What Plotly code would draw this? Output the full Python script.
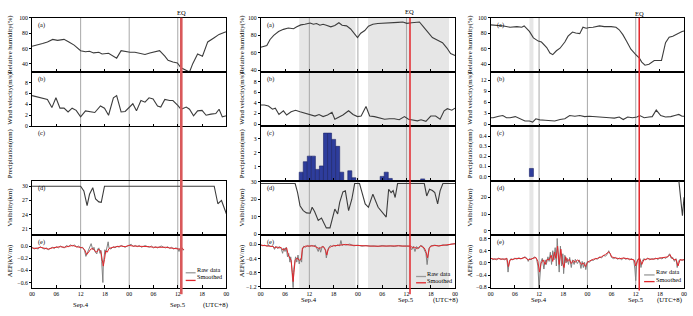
import plotly.graph_objects as go

W, H = 693, 316
FONT = "Liberation Serif"

# ---------------- shared labels ----------------
hour_ticks = [0, 6, 12, 18, 24, 30, 36, 42, 48]
hour_labels = ["00", "06", "12", "18", "00", "06", "12", "18", "00"]
eq_hour = 36.87
grid_hours = [12, 24, 36]
panel_tags = ["(a)", "(b)", "(c)", "(d)", "(e)"]
panel_titles = ["Relative humidity(%)", "Wind velocity(m/s)", "Precipitation(mm)",
                "Visibility(km)", "AEF(kV/m)"]

# ---------------- column 1 ----------------
c1_rh = [(0, 63), (0.6, 63.7), (2.6, 66.6), (3.8, 68.7), (5.1, 72), (6.3, 70.7), (7.9, 72), (9.1, 68.7),
         (10.4, 64.5), (12.0, 57.3), (13.2, 56), (14.2, 56.5), (15.2, 54.4), (16.5, 55.2), (17.3, 53),
         (18.9, 53.9), (19.7, 51.8), (20.9, 47.6), (22.0, 57.3), (23.0, 56), (24.2, 55.2), (25.4, 55.2),
         (26.6, 53.9), (27.9, 52.3), (29.1, 54.4), (30.3, 56), (31.5, 57.3), (32.8, 50.1), (33.6, 44.7),
         (34.8, 42.5), (35.9, 41.3), (36.8, 35), (38.1, 32), (38.9, 29.5), (39.7, 40.4), (40.9, 53),
         (42.1, 50.1), (43.4, 68.7), (45.0, 74.2), (46.2, 78.5), (47.6, 81.4), (48, 82)]
c1_wind = [(0, 5.6), (2.6, 5.1), (3.8, 4.9), (4.9, 3.4), (5.9, 5.2), (6.9, 3.3), (7.9, 3.3), (8.9, 2.6),
           (9.9, 3.3), (10.9, 2.9), (12.0, 1.7), (13.2, 2.8), (14.2, 2.7), (15.5, 2.5), (16.9, 3.7),
           (17.9, 3.3), (18.9, 2.0), (20.1, 5.2), (20.9, 5.6), (22.0, 2.6), (23.0, 2.7), (24.2, 3.5),
           (24.9, 4.1), (25.8, 2.8), (26.9, 4.7), (27.9, 4.4), (28.9, 5.2), (29.9, 5.0), (31.0, 3.7),
           (31.8, 3.5), (32.8, 4.9), (34.0, 4.7), (34.8, 4.7), (36.0, 3.8), (36.8, 3.1), (38.1, 3.5),
           (38.9, 3.1), (39.9, 1.9), (40.9, 2.8), (42.0, 2.9), (43.0, 2.0), (44.2, 2.2), (45.4, 2.3),
           (46.2, 3.1), (47.0, 1.7), (48, 1.9)]
c1_rain = []
c1_vis = [(0, 30), (12, 30), (12.8, 29), (13.6, 25.9), (14.2, 28.3), (15, 29.7), (15.7, 27.3), (16.5, 26.7),
          (17.1, 26.6), (17.9, 30), (45, 30), (45.9, 26.3), (46.8, 27), (47.9, 24.6), (48, 24.2)]
c1_aef_raw = [(0, -0.02), (0.5, -0.05), (1, -0.03), (1.5, -0.05), (2, -0.01), (2.5, -0.03), (3, -0.05),
              (3.5, -0.03), (4, -0.06), (4.5, -0.04), (5, -0.02), (5.5, -0.04), (6, -0.01), (6.5, -0.03),
              (7, 0.0), (7.5, -0.02), (8, -0.03), (8.5, 0.01), (9, -0.01), (9.5, 0.02), (10, 0.0),
              (10.5, 0.02), (11, -0.02), (11.5, 0.0), (12, -0.03), (12.5, -0.02), (13, -0.08),
              (13.3, -0.17), (13.6, -0.12), (14, -0.08), (14.3, -0.02), (14.6, 0.04), (15, -0.06),
              (15.3, -0.02), (15.6, -0.1), (16, -0.13), (16.2, -0.05), (16.5, -0.03), (16.8, -0.12),
              (17, -0.07), (17.2, -0.25), (17.4, -0.42), (17.5, -0.6), (17.6, -0.3), (17.8, -0.15),
              (18, -0.06), (18.2, -0.12), (18.5, -0.04), (18.8, 0.07), (19, -0.03), (19.5, -0.05),
              (20, -0.01), (20.5, -0.03), (21, 0.0), (21.5, -0.02), (22, 0.01), (22.5, -0.01), (23, -0.02),
              (23.5, 0.0), (24, 0.02), (24.5, 0.03), (25, -0.01), (25.5, 0.01), (26, -0.01), (26.5, 0.01),
              (27, -0.02), (27.5, 0.0), (28, 0.01), (28.5, -0.01), (29, -0.02), (29.5, 0.0), (30, -0.03),
              (30.5, -0.01), (31, -0.03), (31.5, -0.01), (32, 0.0), (32.5, -0.02), (33, -0.03),
              (33.5, -0.01), (34, -0.04), (34.5, -0.02), (35, -0.05), (35.5, -0.03), (36, -0.04),
              (36.3, -0.09), (36.6, -0.03), (37, -0.02), (37.3, -0.07), (37.5, -0.05)]
c1_aef_smooth = [(0, -0.03), (1, -0.04), (2, -0.02), (3, -0.04), (4, -0.05), (5, -0.03), (6, -0.02),
                 (7, -0.01), (8, -0.02), (9, 0.0), (10, 0.01), (11, -0.01), (12, -0.02), (12.5, -0.03),
                 (13, -0.06), (13.5, -0.14), (14, -0.1), (14.5, -0.05), (15, -0.04), (15.5, -0.08),
                 (16, -0.1), (16.5, -0.05), (17, -0.09), (17.3, -0.2), (17.6, -0.33), (17.9, -0.22),
                 (18.2, -0.08), (18.6, -0.1), (19, -0.04), (20, -0.02), (21, -0.01), (22, 0.0), (23, -0.01),
                 (24, 0.01), (25, 0.0), (26, 0.0), (27, -0.01), (28, 0.0), (29, -0.01), (30, -0.02),
                 (31, -0.02), (32, -0.01), (33, -0.02), (34, -0.03), (35, -0.04), (36, -0.04),
                 (36.5, -0.05), (37, -0.03), (37.5, -0.06)]
c1_shades = []

# ---------------- column 2 ----------------
c2_rh = [(0, 66.5), (0.9, 67.3), (1.5, 68.4), (2.3, 75.3), (3.2, 80), (4.4, 84.4), (5.6, 86.9), (6.8, 88.4),
         (8.1, 87.6), (8.9, 89.8), (9.9, 92), (10.9, 92.7), (12.2, 94.2), (13.0, 92.7), (13.8, 93.5),
         (14.6, 91.6), (15.4, 92.7), (16.2, 91.6), (17.3, 89.8), (18.3, 91.3), (19.3, 94.5), (20.1, 91.6),
         (21.2, 90.9), (22.2, 87.3), (23.0, 82.5), (23.9, 77.5), (24.7, 82.5), (25.7, 85.5), (26.6, 90.5),
         (27.7, 92.7), (28.9, 93.5), (30.2, 93.8), (31.4, 93.5), (32.6, 94.5), (33.9, 94.9), (35.1, 95.3),
         (36.1, 93.8), (37.3, 94.5), (38.3, 94.5), (39.2, 95.3), (40.2, 89.8), (41.2, 83.6), (42.4, 77.5),
         (43.7, 74.5), (44.9, 71.6), (46.0, 65.5), (46.9, 59.3), (48, 57)]
c2_wind = [(0, 3.6), (0.9, 3.6), (1.9, 3.4), (2.9, 2.8), (3.6, 3.0), (4.5, 1.8), (5.6, 2.5), (6.4, 1.7),
           (7.5, 2.3), (8.6, 2.6), (9.7, 2.3), (10.9, 2.0), (12.2, 1.8), (13.4, 1.5), (14.4, 1.8),
           (15.4, 1.4), (16.5, 1.7), (17.6, 2.2), (18.3, 0.9), (19.1, 1.2), (20.3, 1.7), (21.7, 2.5),
           (22.8, 1.8), (23.9, 1.4), (24.8, 1.5), (26.0, 3.3), (26.9, 1.5), (28.1, 1.4), (29.3, 1.2),
           (30.6, 0.9), (31.8, 1.0), (33.0, 1.0), (34.2, 0.8), (35.5, 1.4), (36.5, 0.9), (37.5, 0.8),
           (38.7, 0.6), (39.6, 0.8), (40.8, 0.5), (42.0, 1.5), (43.2, 1.5), (44.3, 0.9), (45.3, 2.5),
           (46.1, 2.9), (47.2, 2.6), (48, 3.0)]
c2_rain = [(10, 0.6), (11, 1.35), (12, 1.75), (13, 1.75), (14, 0.8), (15, 1.05), (16, 3.4), (17, 3.4),
           (18, 2.95), (19, 2.45), (20, 0.6), (22, 0.7), (23, 0.2), (30, 0.3), (31, 0.6), (32, 0.15),
           (40, 0.12)]
c2_vis = [(0, 29), (8.5, 29), (9.1, 23.8), (9.7, 16.3), (10.5, 13.5), (11.3, 12.2), (12.2, 12), (12.7, 15.4),
          (13.3, 13), (14.2, 7.9), (15, 9.2), (15.7, 6), (16.2, 3.6), (17.1, 3.6), (17.9, 9.8), (18.3, 14.4),
          (19, 11.6), (19.5, 18.2), (20.3, 24.2), (20.9, 24.8), (21.7, 13.5), (22.5, 20), (23.2, 29),
          (24.4, 29), (24.8, 25.7), (25.8, 17.3), (26.6, 15.4), (27.7, 22.9), (29, 15.4), (29.8, 12.9),
          (31, 9.8), (31.6, 25.7), (32.2, 23.8), (32.7, 25), (33.2, 21), (33.8, 29), (40.4, 29), (41, 21.9),
          (41.7, 25.7), (42.4, 25), (43, 23.8), (43.7, 17.3), (44.3, 24.8), (45, 29), (48, 29)]
c2_aef_raw = [(0, -0.01), (0.5, -0.04), (1, -0.02), (1.5, -0.05), (2, -0.03), (2.5, -0.06), (3, -0.04),
              (3.4, -0.14), (3.7, -0.05), (4.2, -0.12), (4.5, -0.06), (5, -0.1), (5.4, -0.25), (5.7, -0.1),
              (6, -0.2), (6.3, -0.08), (6.6, -0.35), (6.9, -0.25), (7.2, -0.5), (7.4, -0.35), (7.6, -0.55),
              (7.8, -0.9), (8.0, -1.22), (8.15, -0.7), (8.3, -0.55), (8.6, -0.35), (8.9, -0.5), (9.2, -0.3),
              (9.5, -0.55), (9.8, -0.4), (10.1, -0.5), (10.3, -0.15), (10.6, -0.05), (11, -0.08),
              (11.5, -0.03), (12, -0.06), (12.5, -0.03), (13, -0.05), (13.5, -0.02), (13.8, -0.1),
              (14.2, -0.2), (14.5, -0.08), (14.8, -0.22), (15.2, -0.05), (15.6, -0.09), (16, -0.18),
              (16.2, -0.38), (16.5, -0.2), (16.8, -0.08), (17.2, -0.03), (17.6, -0.07), (18, -0.02),
              (18.5, -0.05), (19, -0.01), (19.5, -0.04), (19.8, 0.11), (20.1, -0.03), (20.5, 0.0),
              (21, -0.02), (22, 0.01), (23, -0.04), (24, -0.02), (25, -0.05), (26, -0.03), (27, -0.05),
              (28, -0.04), (29, -0.06), (30, -0.03), (31, -0.05), (32, -0.04), (33, -0.06), (34, -0.03),
              (35, -0.05), (36, -0.04), (36.8, -0.06), (37.3, -0.15), (37.7, -0.05), (38.1, -0.2),
              (38.5, -0.06), (39, -0.12), (39.5, -0.03), (40, -0.05), (40.4, -0.15), (40.8, -0.25),
              (41.1, -0.57), (41.3, -0.3), (41.6, -0.1), (42, -0.04), (43, -0.02), (44, -0.05), (45, -0.01),
              (46, -0.03), (47, 0.01), (48, 0.02)]
c2_aef_smooth = [(0, -0.02), (1, -0.03), (2, -0.04), (3, -0.06), (3.5, -0.1), (4, -0.07), (4.5, -0.1),
                 (5, -0.08), (5.5, -0.16), (6, -0.12), (6.4, -0.1), (6.8, -0.3), (7.2, -0.4), (7.5, -0.45),
                 (7.8, -0.8), (8.0, -1.05), (8.2, -0.8), (8.5, -0.45), (9, -0.38), (9.5, -0.45), (10, -0.42),
                 (10.3, -0.1), (11, -0.05), (12, -0.04), (13, -0.04), (13.8, -0.08), (14.5, -0.12),
                 (15, -0.08), (15.5, -0.06), (16, -0.15), (16.3, -0.3), (16.7, -0.12), (17.5, -0.05),
                 (18, -0.04), (19, -0.03), (20, -0.02), (21, 0.0), (22, -0.02), (23, -0.03), (24, -0.04),
                 (26, -0.04), (28, -0.05), (30, -0.04), (32, -0.05), (34, -0.04), (36, -0.05), (37, -0.04),
                 (37.5, -0.1), (38, -0.08), (38.7, -0.12), (39.5, -0.04), (40.4, -0.1), (40.8, -0.2),
                 (41.2, -0.38), (41.6, -0.12), (42, -0.05), (43, -0.03), (44, -0.04), (45, -0.02),
                 (46, -0.01), (47, 0.0), (48, 0.02)]
c2_shades = [(9.5, 23.4), (26.5, 46.5)]

# ---------------- column 3 ----------------
c3_rh = [(0, 91), (0.6, 90.8), (2.0, 89.6), (3.2, 89.6), (4.8, 87.9), (6.5, 88.7), (7.7, 87.9), (8.3, 89.6),
         (9.6, 82.5), (10.6, 74.2), (11.8, 70), (12.6, 68.8), (13.9, 61.7), (14.7, 54.6), (15.4, 52.5),
         (16.3, 57.5), (17.2, 60.8), (18.4, 68.8), (19.2, 76.3), (20.3, 81.7), (21.1, 80.4), (22.1, 79.6),
         (22.9, 87.9), (23.7, 86.7), (24.5, 87.5), (25.4, 87.9), (27.0, 89.6), (28.2, 88.7), (29.9, 88.7),
         (31.1, 87.9), (31.9, 84.6), (32.8, 78.3), (33.7, 70), (34.8, 59.6), (35.9, 53.3), (36.9, 47.9),
         (37.5, 42.9), (38.3, 38.8), (39.3, 40), (40.6, 45), (41.8, 45), (42.4, 45), (43.4, 67.9),
         (44.3, 75), (45.2, 76.3), (46.3, 79.6), (47.5, 82.5), (48, 83)]
c3_wind = [(0, 1.8), (0.6, 1.8), (2.0, 2.2), (3.0, 2.4), (3.9, 1.8), (4.8, 1.8), (6.1, 2.1), (7.3, 1.5),
           (8.5, 0.9), (9.6, 0.9), (10.4, 0.6), (11.2, 1.5), (12.2, 1.2), (13.5, 1.1), (14.7, 0.9),
           (15.9, 0.9), (17.2, 1.3), (18.4, 1.5), (19.6, 2.4), (20.9, 2.2), (22.1, 2.4), (23.3, 2.1),
           (24.5, 2.2), (25.8, 2.1), (27.0, 2.2), (28.2, 2.0), (29.5, 1.8), (30.7, 1.7), (31.9, 2.0),
           (32.9, 1.3), (34.0, 2.0), (35.2, 1.8), (36.3, 2.0), (37.0, 2.4), (38.1, 1.8), (39.3, 2.0),
           (40.1, 2.1), (41.1, 3.9), (42.2, 2.4), (43.4, 2.0), (44.7, 2.1), (45.7, 2.4), (46.7, 2.7),
           (47.5, 2.2), (48, 2.2)]
c3_rain = [(10.1, 0.08)]
c3_vis = [(0, 30), (46.7, 30), (47.6, 9), (48, 20)]
c3_aef_raw = [(0, 0.17), (0.5, 0.1), (1, 0.14), (1.5, 0.1), (2, 0.16), (2.5, 0.11), (3, 0.14), (3.5, 0.1),
              (4, 0.16), (4.3, -0.3), (4.6, 0.05), (5, 0.14), (5.5, 0.1), (6, 0.16), (6.5, 0.12), (7, 0.17),
              (7.5, 0.13), (8, 0.18), (8.5, 0.2), (9, 0.15), (9.3, 0.05), (9.6, 0.14), (10, 0.1),
              (10.5, 0.16), (11, 0.2), (11.4, 0.12), (11.7, -0.1), (12, -0.82), (12.2, -0.4), (12.5, 0.05),
              (12.8, 0.15), (13.2, -0.2), (13.5, 0.1), (13.8, -0.05), (14.2, 0.2), (14.5, 0.05),
              (14.8, 0.35), (15.1, -0.05), (15.4, 0.4), (15.7, 0.1), (16, 0.5), (16.3, -0.1), (16.5, 0.8),
              (16.8, 0.2), (17, -0.3), (17.3, 0.55), (17.6, -0.1), (17.9, 0.3), (18.1, -0.35), (18.4, 0.25),
              (18.7, 0.0), (19, 0.15), (19.3, -0.05), (19.6, 0.18), (20, -0.15), (20.3, 0.1), (20.7, -0.05),
              (21, 0.12), (21.5, -0.02), (22, 0.1), (22.4, -0.18), (22.7, 0.05), (23, -0.15), (23.3, 0.02),
              (23.6, -0.22), (24, 0.05), (24.5, 0.02), (25, 0.1), (25.5, 0.08), (26, 0.15), (26.5, 0.12),
              (27, 0.2), (27.5, 0.16), (28, 0.25), (28.5, 0.22), (29, 0.3), (29.3, 0.4), (29.7, 0.28),
              (30, 0.18), (30.5, 0.14), (31, 0.18), (31.5, 0.12), (32, 0.16), (32.5, 0.1), (33, 0.17),
              (33.5, 0.12), (34, 0.15), (34.5, 0.1), (35, 0.14), (35.5, 0.08), (35.8, -0.2), (36, -0.58),
              (36.2, -0.1), (36.5, 0.12), (37, 0.16), (37.3, -0.15), (37.6, 0.05), (38, 0.14), (38.5, 0.1),
              (39, 0.16), (39.5, 0.1), (40, 0.14), (40.5, 0.12), (41, 0.16), (41.5, 0.11), (42, 0.17),
              (42.5, 0.13), (43, 0.18), (43.5, 0.15), (44, 0.22), (44.4, 0.3), (44.8, 0.15), (45.2, 0.18),
              (45.6, 0.05), (46, 0.14), (46.3, -0.15), (46.6, 0.05), (47, 0.12), (47.5, 0.08), (48, 0.12)]
c3_aef_smooth = [(0, 0.15), (1, 0.12), (2, 0.14), (3, 0.12), (4, 0.14), (4.4, -0.12), (4.8, 0.1), (5.5, 0.13),
                 (6.5, 0.15), (7.5, 0.14), (8.5, 0.18), (9.3, 0.1), (10, 0.13), (10.6, 0.14), (11.2, 0.18),
                 (11.7, 0.05), (12.1, -0.3), (12.5, 0.0), (13, 0.1), (13.5, -0.05), (14, 0.12), (14.5, 0.1),
                 (15, 0.25), (15.4, 0.05), (15.8, 0.35), (16.2, 0.15), (16.6, 0.55), (17, -0.05),
                 (17.4, 0.45), (17.8, 0.0), (18.2, -0.15), (18.6, 0.2), (19, 0.05), (19.5, 0.12), (20, -0.02),
                 (20.5, 0.08), (21, 0.02), (21.5, 0.1), (22, 0.06), (22.5, -0.05), (23, 0.0), (23.5, -0.12),
                 (24, 0.02), (24.5, 0.06), (25.5, 0.12), (26.5, 0.15), (27.5, 0.2), (28.5, 0.28),
                 (29.3, 0.36), (29.7, 0.3), (30, 0.2), (31, 0.16), (32, 0.14), (33, 0.16), (34, 0.13),
                 (35, 0.12), (35.6, 0.1), (36, -0.1), (36.4, 0.08), (37, 0.14), (37.5, -0.05), (38, 0.1),
                 (39, 0.14), (40, 0.12), (41, 0.14), (42, 0.15), (43, 0.16), (44, 0.2), (44.5, 0.27),
                 (45, 0.16), (45.5, 0.1), (46, 0.12), (46.5, -0.1), (47, 0.1), (48, 0.1)]
c3_shades = [(9.6, 10.6)]

# y-axis tick labels per column (a..e)
c1_yticks = [[40, 60, 80, 100], [0, 2, 4, 6, 8], [0.0, 0.1, 0.2, 0.3, 0.4], [21, 24, 27, 30], [-0.6, -0.4, -0.2, 0.0]]
c2_yticks = [[40, 60, 80, 100], [0, 2, 4, 6, 8], [1, 2, 3], [0, 10, 20, 30], [-1.2, -0.8, -0.4, 0.0]]
c3_yticks = [[40, 60, 80, 100], [0, 3, 6, 9, 12], [0.0, 0.1, 0.2, 0.3, 0.4], [0, 10, 20], [-0.8, -0.4, 0.0, 0.4, 0.8]]

# ---------------- layout geometry (pixels) ----------------
def px(x):
    return x / W


def py(y):
    return 1 - y / H


row_px = [(15, 70), (70, 125.5), (125.5, 181), (181, 236), (236, 290.5)]
columns = [
    dict(xd=(29.3, 225.3), rh=c1_rh, wind=c1_wind, rain=c1_rain, vis=c1_vis, raw=c1_aef_raw,
         smooth=c1_aef_smooth, shades=c1_shades, yticks=c1_yticks, fmt=["d", "d", ".1f", "d", ".1f"],
         ranges=[[30, 100.2], [0, 10], [0, 0.48], [19.8, 31.2], [-0.69, 0.19]],
         title_x=7, eq_y=10, eq_w=2.6, eq_c="#d9585a", eq_bot=297, date_y=307.5, utc_h=45.2,
         leg=dict(x0=184.3, x1=194.3, gy=275, ry=282.8, tx=195, rawy=271.2, smy=278.4)),
    dict(xd=(260.0, 456.0), rh=c2_rh, wind=c2_wind, rain=c2_rain, vis=c2_vis, raw=c2_aef_raw,
         smooth=c2_aef_smooth, shades=c2_shades, yticks=c2_yticks, fmt=["d", "d", "d", "d", ".1f"],
         ranges=[[38.5, 100.2], [-0.4, 9.9], [0, 3.9], [-0.2, 30.7], [-1.23, 0.28]],
         title_x=241, eq_y=8.3, eq_w=1.5, eq_c="#e3262b", eq_bot=297, date_y=302.3, utc_h=45.6,
         leg=dict(x0=416.7, x1=426.7, gy=278.8, ry=285.2, tx=427, rawy=275.8, smy=283)),
    dict(xd=(492.0, 687.0), rh=c3_rh, wind=c3_wind, rain=c3_rain, vis=c3_vis, raw=c3_aef_raw,
         smooth=c3_aef_smooth, shades=c3_shades, yticks=c3_yticks, fmt=["d", "d", ".1f", "d", ".1f"],
         ranges=[[30.5, 100.2], [-0.5, 14.4], [-0.04, 0.5], [-2.1, 29.9], [-0.82, 0.93]],
         title_x=471, eq_y=11, eq_w=1.5, eq_c="#e3262b", eq_bot=293, date_y=302.3, utc_h=44.5,
         leg=dict(x0=646.7, x1=657.3, gy=277.2, ry=284, tx=658, rawy=274.2, smy=281.4)),
]

LINE_C = "#3c3c3c"
RAW_C = "#808080"
SMOOTH_C = "#e0262b"
tickfont = dict(family=FONT, size=5.8, color="black")

fig = go.Figure()
layout = dict(width=W, height=H, margin=dict(l=0, r=0, t=0, b=0), showlegend=False,
              paper_bgcolor="white", plot_bgcolor="rgba(0,0,0,0)",
              font=dict(family=FONT, color="black"))
shapes = []
annotations = []


def unzip(pairs):
    return [p[0] for p in pairs], [p[1] for p in pairs]


def fmt_tick(v, f):
    if f == "d":
        return str(int(round(v)))
    s = format(v, f)
    return s.replace("-", "\u2212")


for c, col in enumerate(columns):
    x0, x1 = col["xd"]
    first = c * 5 + 1
    xref_first = "x" if first == 1 else f"x{first}"
    for r in range(5):
        n = c * 5 + r + 1
        xs = "" if n == 1 else str(n)
        xa, ya = "x" + xs, "y" + xs
        top, bot = row_px[r]
        layout["xaxis" + xs] = dict(domain=[px(x0), px(x1)], range=[0, 48], anchor=ya,
                                    tickvals=hour_ticks, ticktext=hour_labels, showticklabels=(r == 4),
                                    ticks="inside", ticklen=2.5, tickwidth=0.8, tickcolor="black",
                                    showline=True, mirror=True, linecolor="black", linewidth=1,
                                    showgrid=False, zeroline=False, tickfont=tickfont)
        tv = col["yticks"][r]
        layout["yaxis" + xs] = dict(domain=[py(bot), py(top)], range=col["ranges"][r], anchor=xa,
                                    tickvals=tv, ticktext=[fmt_tick(v, col["fmt"][r]) for v in tv],
                                    ticks="outside", ticklen=2, tickwidth=0.8, tickcolor="black",
                                    showline=True, mirror=True, linecolor="black", linewidth=1,
                                    showgrid=False, zeroline=False, tickfont=tickfont)
        # data
        if r == 0:
            t, v = unzip(col["rh"])
            fig.add_trace(go.Scatter(x=t, y=v, mode="lines", line=dict(color=LINE_C, width=1.1), xaxis=xa, yaxis=ya))
        elif r == 1:
            t, v = unzip(col["wind"])
            fig.add_trace(go.Scatter(x=t, y=v, mode="lines", line=dict(color=LINE_C, width=1.1), xaxis=xa, yaxis=ya))
        elif r == 2:
            if col["rain"]:
                t, v = unzip(col["rain"])
                fig.add_trace(go.Bar(x=t, y=v, width=1.0, marker=dict(color="#2e3d9c", line=dict(color="#1b2468", width=0.6)),
                                     xaxis=xa, yaxis=ya))
        elif r == 3:
            t, v = unzip(col["vis"])
            fig.add_trace(go.Scatter(x=t, y=v, mode="lines", line=dict(color=LINE_C, width=1.1), xaxis=xa, yaxis=ya))
        else:
            t, v = unzip(col["raw"])
            fig.add_trace(go.Scatter(x=t, y=v, mode="lines", line=dict(color=RAW_C, width=1), xaxis=xa, yaxis=ya))
            t, v = unzip(col["smooth"])
            fig.add_trace(go.Scatter(x=t, y=v, mode="lines", line=dict(color=SMOOTH_C, width=1), xaxis=xa, yaxis=ya))
        # panel tag & y title
        annotations.append(dict(xref="paper", yref="paper", x=px(x0 + 4), y=py(top + 7.5), text=panel_tags[r],
                                showarrow=False, xanchor="left", yanchor="middle",
                                font=dict(family=FONT, size=6.3, color="black")))
        annotations.append(dict(xref="paper", yref="paper", x=px(col["title_x"]), y=py((top + bot) / 2),
                                text=panel_titles[r], textangle=-90, showarrow=False,
                                xanchor="center", yanchor="middle",
                                font=dict(family=FONT, size=6.7, color="black")))
    # shading and grid lines across the column
    for a, b in col["shades"]:
        shapes.append(dict(type="rect", xref=xref_first, yref="paper", x0=a, x1=b, y0=py(290.5), y1=py(15),
                           fillcolor="#e6e6e6", line=dict(width=0), layer="below"))
    for h in grid_hours:
        shapes.append(dict(type="line", xref=xref_first, yref="paper", x0=h, x1=h, y0=py(290.5), y1=py(15),
                           line=dict(color="#a8a8a8", width=1), layer="below"))
    shapes.append(dict(type="line", xref=xref_first, yref="paper", x0=eq_hour, x1=eq_hour,
                       y0=py(col["eq_bot"]), y1=py(15), line=dict(color=col["eq_c"], width=col["eq_w"]),
                       layer="above"))
    annotations.append(dict(xref=xref_first, yref="paper", x=eq_hour, y=py(col["eq_y"]), text="EQ",
                            showarrow=False, xanchor="center", yanchor="middle",
                            font=dict(family=FONT, size=6.5, color="black")))
    # dates
    for txt, h in (("Sep.4", 12), ("Sep.5", 36), ("(UTC+8)", col["utc_h"])):
        annotations.append(dict(xref=xref_first, yref="paper", x=h, y=py(col["date_y"]), text=txt,
                                showarrow=False, xanchor="center", yanchor="middle",
                                font=dict(family=FONT, size=6.7, color="black")))
    # legend
    lg = col["leg"]
    shapes.append(dict(type="line", xref="paper", yref="paper", x0=px(lg["x0"]), x1=px(lg["x1"]),
                       y0=py(lg["gy"]), y1=py(lg["gy"]), line=dict(color="#9a9a9a", width=1.3), layer="above"))
    shapes.append(dict(type="line", xref="paper", yref="paper", x0=px(lg["x0"]), x1=px(lg["x1"]),
                       y0=py(lg["ry"]), y1=py(lg["ry"]), line=dict(color=SMOOTH_C, width=1.3), layer="above"))
    for txt, yy in (("Raw data", lg["rawy"]), ("Smoothed", lg["smy"])):
        annotations.append(dict(xref="paper", yref="paper", x=px(lg["tx"]), y=py(yy), text=txt,
                                showarrow=False, xanchor="left", yanchor="middle", borderpad=0,
                                font=dict(family=FONT, size=6.2, color="black")))

layout["shapes"] = shapes
layout["annotations"] = annotations
fig.update_layout(**layout)
fig.write_html("out.html", config=dict(displayModeBar=False),
               post_script="document.body.style.margin='0px';document.body.style.overflow='hidden';")
